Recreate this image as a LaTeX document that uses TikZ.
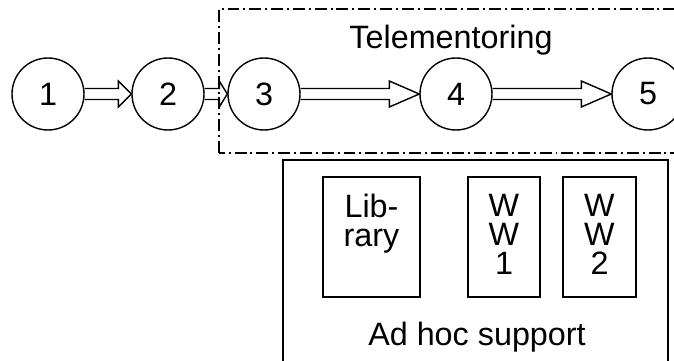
\documentclass[tikz,border=0pt]{standalone}
\usepackage{fontspec}
\setmainfont{Liberation Sans}
\usetikzlibrary{calc, positioning}

\begin{document}
\begin{tikzpicture}[
    line width=1pt,
    on grid,
    font=\fontsize{23}{20.6}\selectfont,
    stage/.style={circle, draw, minimum size=1.8cm, inner sep=0pt},
    item/.style={draw, minimum height=3cm, inner sep=0pt},
    dashdot/.style={dash pattern=on 8.5pt off 2.8pt on 1.4pt off 2.8pt},
    fat/.style={to path={let \p1=(\tikztostart.east), \p2=(\tikztotarget.west) in
        (\x1,{\y1+0.1375cm}) -- ({\x2-#1},{\y1+0.1375cm}) -- ({\x2-#1},{\y1+0.325cm})
        -- (\x2,\y1) -- ({\x2-#1},{\y1-0.325cm}) -- ({\x2-#1},{\y1-0.1375cm}) -- (\x1,{\y1-0.1375cm})}},
]
    \clip (0,0) rectangle (16.85,9);

    % phases
    \draw[dashdot] (5.475,5.175) rectangle (17.2,8.775);
    \node[anchor=base] (tele) at (11.275,7.775) {Telementoring};

    \node[stage]                      (s1) at (1.2,6.65) {1};
    \node[stage, right=3cm of s1]     (s2) {2};
    \node[stage, right=2.4cm of s2]   (s3) {3};
    \node[stage, right=4.8cm of s3]   (s4) {4};
    \node[stage, right=4.8cm of s4]   (s5) {5};

    \draw (s1) to[fat=0.325cm] (s2);
    \draw (s2) to[fat=0.2cm]   (s3);
    \draw (s3) to[fat=0.75cm]  (s4);
    \draw (s4) to[fat=0.75cm]  (s5);

    % support
    \draw (7.075,-0.3) rectangle (16.7,5.0);
    \node[item, minimum width=2.425cm] (lib) at (9.2875,3.075) {};
    \node[item, minimum width=1.8cm]   (ww1) at (12.6,3.075) {};
    \node[item, minimum width=1.825cm] (ww2) at (14.9875,3.075) {};
    \node[below=0.425cm of lib.north, anchor=north, inner sep=0pt, align=center] (libtext) {Lib-\\rary};
    \node[below=0.425cm of ww1.north, anchor=north, inner sep=0pt, align=center] (ww1text) {W\\W\\1};
    \node[below=0.425cm of ww2.north, anchor=north, inner sep=0pt, align=center] (ww2text) {W\\W\\2};
    \node[anchor=base] (adhoc) at (11.925,0.375) {Ad hoc support};
\end{tikzpicture}
\end{document}
